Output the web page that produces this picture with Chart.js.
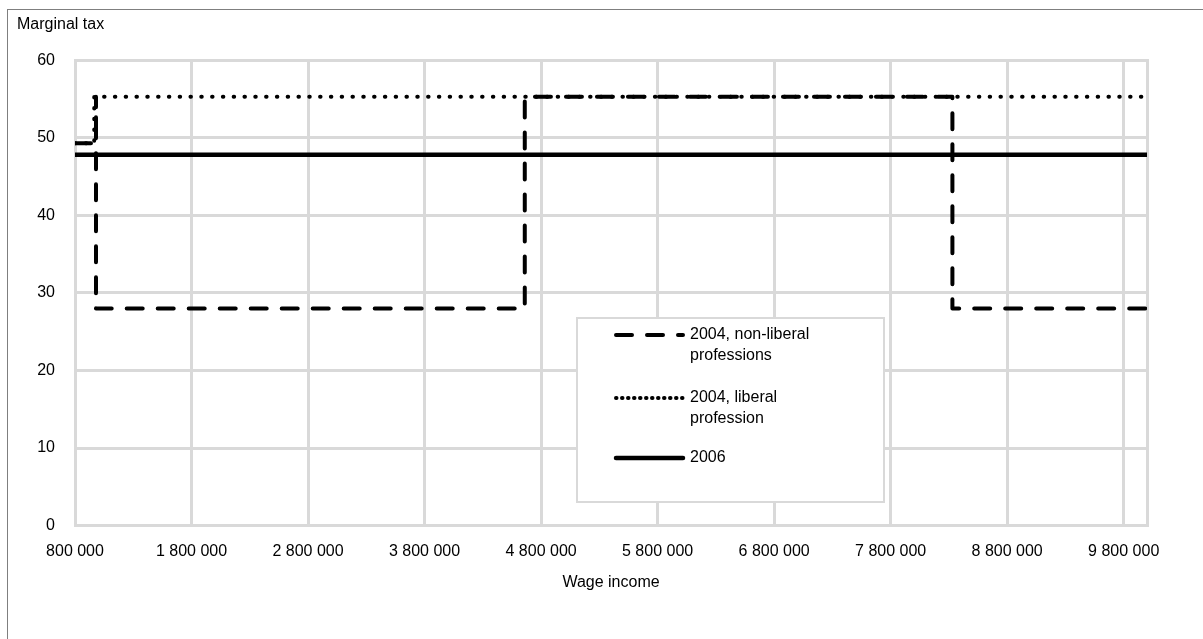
<!DOCTYPE html>
<html>
<head>
<meta charset="utf-8">
<script src="https://cdn.jsdelivr.net/npm/chart.js@4/dist/chart.umd.min.js"></script>
<style>
  html, body { margin: 0; padding: 0; background: #fff; }
  #frame { position: absolute; left: 7px; top: 9px; width: 1300px; height: 700px;
           border-left: 1.5px solid #7f7f7f; border-top: 1.5px solid #7f7f7f; }
  #wrap { position: absolute; left: 0; top: 0; width: 1203px; height: 639px; }
</style>
</head>
<body>
<div id="frame"></div>
<div id="wrap"><canvas id="chart-1"></canvas></div>
<script>
// series data (wage income in NOK, marginal tax in %)
var incomeNonLiberal = [800000, 980000, 980000, 980000, 4660000, 4660000, 8330000, 8330000, 10000000];
var taxNonLiberal    = [49.3, 49.3, 55.3, 28, 28, 55.3, 55.3, 28, 28];

var incomeLiberal = [800000, 965000, 965000, 10000000];
var taxLiberal    = [49.3, 49.3, 55.3, 55.3];

var income2006 = [800000, 10000000];
var tax2006    = [47.8, 47.8];

var seriesNames = ['2004, non-liberal professions', '2004, liberal profession', '2006'];
var legendLines = [['2004, non-liberal', 'professions'], ['2004, liberal', 'profession'], ['2006']];

var xTicks = [800000, 1800000, 2800000, 3800000, 4800000, 5800000, 6800000, 7800000, 8800000, 9800000];
var yTicks = [0, 10, 20, 30, 40, 50, 60];

function pts(xs, ys) {
    return xs.map(function (x, i) { return { x: x, y: ys[i] }; });
}
function fmt(v) {
    return String(v).replace(/\B(?=(\d{3})+(?!\d))/g, ' ');
}

var FONT = 'Liberation Sans, Arial, sans-serif';
Chart.defaults.font.family = FONT;
Chart.defaults.font.size = 16;
Chart.defaults.color = '#000';

// legend drawn inside the plot, like the Excel one
var boxLegend = {
    id: 'boxLegend',
    afterDraw: function (chart) {
        var ctx = chart.ctx;
        ctx.save();
        ctx.fillStyle = '#fff';
        ctx.fillRect(577, 318, 307, 184);
        ctx.strokeStyle = '#d9d9d9';
        ctx.lineWidth = 2;
        ctx.strokeRect(577, 318, 307, 184);
        var rowY = [335, 398, 458];
        chart.data.datasets.forEach(function (ds, i) {
            ctx.beginPath();
            ctx.strokeStyle = ds.borderColor;
            ctx.lineWidth = ds.borderWidth;
            ctx.lineCap = 'round';
            ctx.setLineDash(i === 1 ? [0.5, 5.5] : (ds.borderDash || []));
            ctx.moveTo(616, rowY[i]);
            ctx.lineTo(683, rowY[i]);
            ctx.stroke();
            ctx.setLineDash([]);
            ctx.fillStyle = '#000';
            ctx.font = '16px ' + FONT;
            ctx.textBaseline = 'middle';
            legendLines[i].forEach(function (t, j) {
                ctx.fillText(t, 690, rowY[i] + j * 21);
            });
        });
        ctx.restore();
    }
};

new Chart(document.getElementById('chart-1'), {
    type: 'scatter',
    data: {
        datasets: [{
            label: seriesNames[0],
            data: pts(incomeNonLiberal, taxNonLiberal),
            showLine: true,
            borderColor: '#000',
            borderWidth: 4,
            borderDash: [16, 15],
            borderCapStyle: 'round',
            borderJoinStyle: 'round',
            pointRadius: 0
        }, {
            label: seriesNames[1],
            data: pts(incomeLiberal, taxLiberal),
            showLine: true,
            borderColor: '#000',
            borderWidth: 4,
            borderDash: [0.5, 10.3],
            borderCapStyle: 'round',
            borderJoinStyle: 'round',
            pointRadius: 0
        }, {
            label: seriesNames[2],
            data: pts(income2006, tax2006),
            showLine: true,
            borderColor: '#000',
            borderWidth: 4.5,
            borderCapStyle: 'butt',
            pointRadius: 0
        }]
    },
    options: {
        responsive: true,
        maintainAspectRatio: false,
        animation: false,
        layout: {
            padding: { left: 17, right: 56, top: 0, bottom: 47 }
        },
        plugins: {
            legend: { display: false },
            tooltip: { enabled: false },
            title: {
                display: true,
                text: 'Marginal tax',
                align: 'start',
                color: '#000',
                font: { size: 16, weight: 'normal' },
                padding: { top: 15, bottom: 26 }
            }
        },
        scales: {
            x: {
                type: 'linear',
                min: 800000,
                max: 10000000,
                afterBuildTicks: function (scale) {
                    scale.ticks = xTicks.map(function (v) { return { value: v }; });
                },
                ticks: {
                    padding: 16,
                    maxRotation: 0,
                    autoSkip: false,
                    callback: function (v) { return fmt(v); }
                },
                grid: { color: '#d9d9d9', lineWidth: 3, drawTicks: false },
                border: { display: true, color: '#d9d9d9', width: 3 },
                title: {
                    display: true,
                    text: 'Wage income',
                    color: '#000',
                    font: { size: 16 },
                    padding: { top: -4, bottom: 0 }
                }
            },
            y: {
                min: 0,
                max: 60,
                afterBuildTicks: function (scale) {
                    scale.ticks = yTicks.map(function (v) { return { value: v }; });
                },
                afterFit: function (scale) { scale.width = 58; },
                ticks: { padding: 20 },
                grid: { color: '#d9d9d9', lineWidth: 3, drawTicks: false },
                border: { display: true, color: '#d9d9d9', width: 3 }
            },
            yRight: {
                position: 'right',
                min: 0,
                max: 60,
                afterFit: function (scale) { scale.width = 0; },
                ticks: { display: false },
                grid: { display: false, drawTicks: false },
                border: { display: true, color: '#d9d9d9', width: 3, dash: [40, 15] }
            }
        }
    },
    plugins: [boxLegend]
});
</script>
</body>
</html>
